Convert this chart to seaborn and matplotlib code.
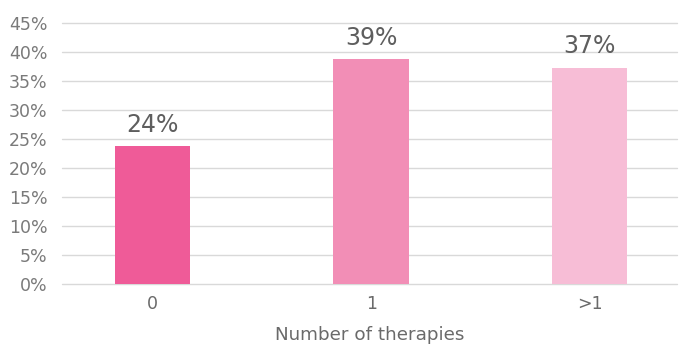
import matplotlib
matplotlib.use('Agg')
import matplotlib.pyplot as plt
import seaborn as sns
import pandas as pd

# values
categories = ["0", "1", ">1"]
shares = [23.8, 38.8, 37.3]
labels = ["24%", "39%", "37%"]
bar_colors = ["#EF5B98", "#F28EB6", "#F7BDD6"]
y_ticks = [0, 5, 10, 15, 20, 25, 30, 35, 40, 45]

sns.set_theme(style="white")
plt.rcParams['font.family'] = ['DejaVu Sans']

df = pd.DataFrame({"therapies": categories, "share": shares})

fig = plt.figure(figsize=(6.79, 3.45), dpi=100)
ax = fig.add_axes([62 / 679, 1 - 284.3 / 345, (677 - 62) / 679, (284.3 - 23.3) / 345])

sns.barplot(data=df, x="therapies", y="share", hue="therapies", palette=bar_colors,
            width=0.345, legend=False, ax=ax, saturation=1, linewidth=0, zorder=3)

for i, (v, lab) in enumerate(zip(shares, labels)):
    ax.annotate(lab, (i, v), xytext=(0, 7), textcoords="offset points",
                ha="center", va="bottom", fontsize=17, color="#5E5E5E")

ax.set_ylim(0, 45)
ax.set_xlim(-0.415, 2.40)
ax.set_yticks(y_ticks)
ax.set_yticklabels([f"{t}%" for t in y_ticks])
ax.yaxis.grid(True, color="#D9D9D9", linewidth=1, zorder=0)
ax.set_axisbelow(True)
for line in ax.get_ygridlines():
    line.set_clip_on(False)
for s in ax.spines.values():
    s.set_visible(False)
ax.tick_params(axis="y", length=0, pad=10.5, labelsize=12.5, labelcolor="#7A7A7A")
ax.tick_params(axis="x", length=0, pad=8, labelsize=12.5, labelcolor="#6A6A6A")
ax.set_xlabel("Number of therapies", fontsize=13.2, color="#6A6A6A", labelpad=9)
ax.set_ylabel("")

fig.savefig("out.png", dpi=100)
